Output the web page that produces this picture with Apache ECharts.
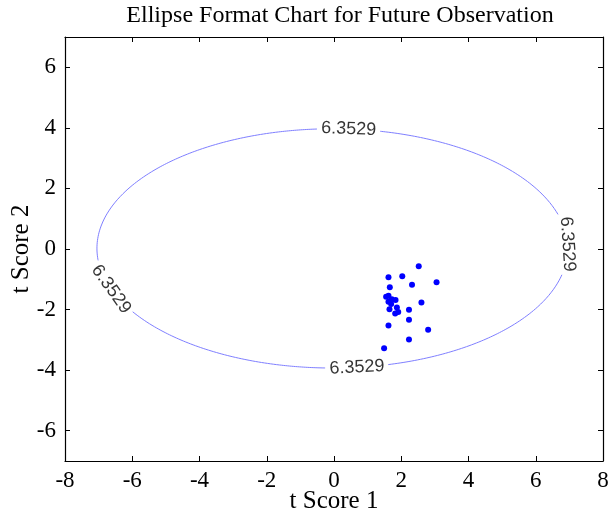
<!DOCTYPE html>
<html>
<head>
<meta charset="utf-8">
<script src="https://cdn.jsdelivr.net/npm/echarts@6/dist/echarts.min.js"></script>
<style>
html,body{margin:0;padding:0;background:#fff;}
#chart{width:608px;height:517px;}
</style>
</head>
<body>
<div id="chart"></div>
<script>
// ---- data ----
const xTickValues = [-8, -6, -4, -2, 0, 2, 4, 6, 8];
const yTickValues = [-6, -4, -2, 0, 2, 4, 6];
const obsX = [2.52, 1.62, 2.03, 3.05, 2.32, 1.66, 1.55, 1.62, 1.72, 1.83, 1.62, 1.70, 2.60, 1.87, 1.65, 2.23, 1.91, 1.82, 2.23, 1.62, 2.80, 2.23, 1.49];
const obsY = [-0.57, -0.93, -0.90, -1.10, -1.18, -1.26, -1.58, -1.54, -1.66, -1.68, -1.74, -1.82, -1.77, -1.93, -1.99, -2.01, -2.08, -2.13, -2.34, -2.53, -2.67, -2.99, -3.28];
const contourLevel = 6.3529;
const ellipseCenter = [-0.05, 0.02];
const ellipseRadii = [7.0, 3.95];
const labelAngles = [86, 2, 200, 276]; // degrees along the contour where the level is written

// ---- layout ----
const G = {left: 65, right: 5, top: 37, bottom: 56};
const W = 608, H = 517;
const pxX = (W - G.left - G.right) / 16;
const pxY = (H - G.top - G.bottom) / 14;

function ellPoint(deg) {
  const t = deg * Math.PI / 180;
  return [ellipseCenter[0] + ellipseRadii[0] * Math.cos(t), ellipseCenter[1] + ellipseRadii[1] * Math.sin(t)];
}
const labelPos = labelAngles.map(ellPoint);
const labelRot = labelAngles.map(function (deg) {
  const t = deg * Math.PI / 180;
  const dx = -ellipseRadii[0] * Math.sin(t) * pxX;
  const dy = ellipseRadii[1] * Math.cos(t) * pxY;
  let a = Math.atan2(dy, dx) * 180 / Math.PI;
  if (a > 90) a -= 180;
  if (a < -90) a += 180;
  if (Math.abs(Math.abs(a) - 90) < 3) a = -90;
  return a;
});
const gapHalf = 31;
const ellData = [];
for (let i = 0; i <= 1440; i++) {
  const p = ellPoint(i / 4);
  let hide = false;
  labelPos.forEach(function (q) {
    const d = Math.hypot((p[0] - q[0]) * pxX, (p[1] - q[1]) * pxY);
    if (d < gapHalf) hide = true;
  });
  ellData.push(hide ? [p[0], '-'] : p);
}
const obsData = obsX.map(function (x, i) { return [x, obsY[i]]; });
const labelData = labelPos.map(function (p, i) {
  return {
    value: p,
    label: {
      show: true, position: 'inside', rotate: labelRot[i],
      formatter: contourLevel.toFixed(4),
      fontFamily: 'Liberation Sans', fontSize: 18, color: '#000',
      align: 'center', verticalAlign: 'middle'
    }
  };
});

const serif = 'Liberation Serif';
const axisCommon = {
  axisLine: {show: true, onZero: false, lineStyle: {color: '#000', width: 1.2}},
  splitLine: {show: false}
};

const chart = echarts.init(document.getElementById('chart'), null, {renderer: 'canvas'});
chart.setOption({
  animation: false,
  backgroundColor: '#fff',
  title: {
    text: 'Ellipse Format Chart for Future Observation',
    left: 335, top: -1, textAlign: 'center',
    textStyle: {fontFamily: serif, fontSize: 24, fontWeight: 'normal', color: '#000'}
  },
  grid: {left: G.left, right: G.right, top: G.top, bottom: G.bottom, outerBoundsMode: 'none', containLabel: false},
  xAxis: [
    Object.assign({}, axisCommon, {
      type: 'value', position: 'bottom', min: -8, max: 8, interval: 2,
      name: 't Score 1', nameLocation: 'middle', nameGap: 28, nameMoveOverlap: false,
      nameTextStyle: {fontFamily: serif, fontSize: 25, color: '#000'},
      axisTick: {show: true, inside: true, length: 5, lineStyle: {color: '#000'}, customValues: xTickValues},
      axisLabel: {show: true, margin: 8, fontFamily: serif, fontSize: 23, color: '#000', customValues: xTickValues}
    }),
    Object.assign({}, axisCommon, {
      type: 'value', position: 'top', min: -8, max: 8, interval: 2,
      axisTick: {show: true, inside: true, length: 5, lineStyle: {color: '#000'}, customValues: xTickValues},
      axisLabel: {show: false}
    })
  ],
  yAxis: [
    Object.assign({}, axisCommon, {
      type: 'value', position: 'left', min: -7, max: 7,
      name: 't Score 2', nameLocation: 'middle', nameGap: 31, nameRotate: 90, nameMoveOverlap: false,
      nameTextStyle: {fontFamily: serif, fontSize: 25, color: '#000'},
      axisTick: {show: true, inside: true, length: 5, lineStyle: {color: '#000'}, customValues: yTickValues},
      axisLabel: {show: true, margin: 9, fontFamily: serif, fontSize: 23, color: '#000', customValues: yTickValues}
    }),
    Object.assign({}, axisCommon, {
      type: 'value', position: 'right', min: -7, max: 7,
      axisTick: {show: true, inside: true, length: 5, lineStyle: {color: '#000'}, customValues: yTickValues},
      axisLabel: {show: false}
    })
  ],
  series: [
    {
      type: 'line', data: ellData, showSymbol: false, symbol: 'none', connectNulls: false,
      lineStyle: {color: '#7f7fff', width: 1}, silent: true, z: 2
    },
    {
      type: 'scatter', data: obsData, symbol: 'circle', symbolSize: 6,
      itemStyle: {color: '#0000ff', opacity: 1}, z: 3
    },
    {
      type: 'scatter', data: labelData, symbolSize: 0, silent: true, z: 4
    }
  ]
});
</script>
</body>
</html>
